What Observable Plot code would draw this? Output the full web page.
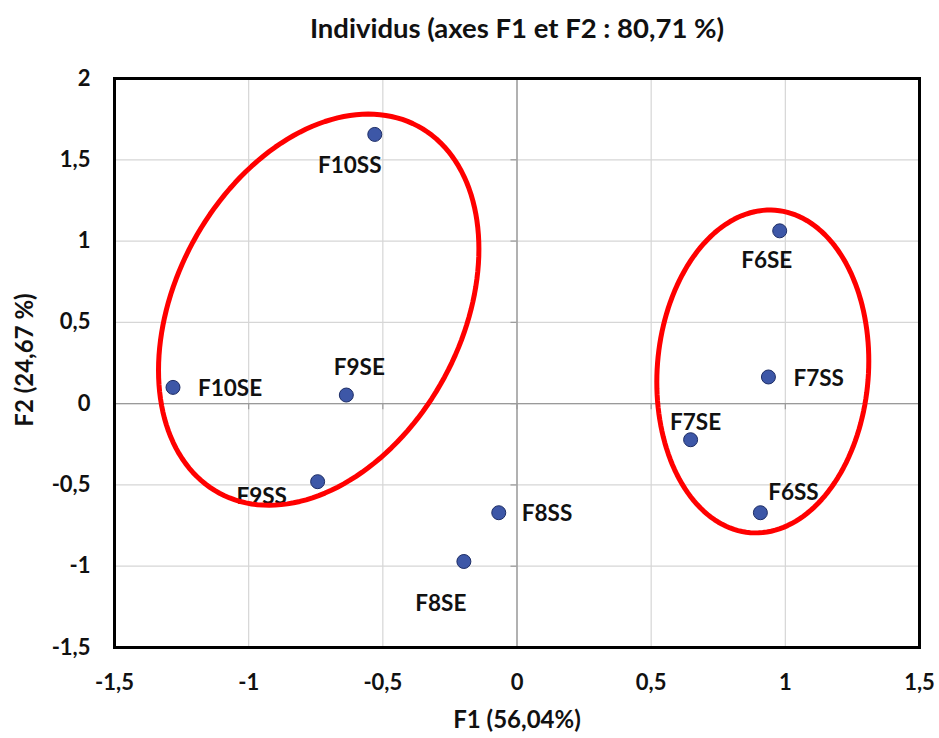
<!DOCTYPE html>
<html>
<head>
<meta charset="utf-8">
<script src="https://cdn.jsdelivr.net/npm/d3@7"></script>
<script src="https://cdn.jsdelivr.net/npm/@observablehq/plot@0.6"></script>
<style>
  body { margin: 0; background: #fff; }
  svg { display: block; }
</style>
</head>
<body>
<div id="chart"></div>
<script>
// Individuals projected on the first factorial plane
const names = ["F10SS", "F6SE", "F10SE", "F9SE", "F7SS", "F7SE", "F9SS", "F6SS", "F8SS", "F8SE"];
const f1 = [-0.530, 0.979, -1.282, -0.636, 0.937, 0.647, -0.743, 0.907, -0.068, -0.198];
const f2 = [1.656, 1.063, 0.100, 0.053, 0.164, -0.222, -0.480, -0.671, -0.671, -0.971];

const xTicks = [-1.5, -1, -0.5, 0, 0.5, 1, 1.5];
const yTicks = [-1.5, -1, -0.5, 0, 0.5, 1, 1.5, 2];

const titleText = "Individus (axes F1 et F2 : 80,71 %)";
const xTitle = "F1 (56,04%)";
const yTitle = "F2 (24,67 %)";

// Groups circled on the plane: centre, half-extent along F1 and F2, tilt
const groupCx = [-0.739, 0.916];
const groupCy = [0.578, 0.198];
const groupRx = [0.597, 0.395];
const groupRy = [1.203, 0.993];
const groupTilt = [0.31, 0.066];

// Where each name sits relative to its point (pixels)
const labelPlacement = {
  F10SS: {dx: -25, dy: 31, anchor: "middle"},
  F6SE:  {dx: -13, dy: 30, anchor: "middle"},
  F10SE: {dx: 25,  dy: 1,  anchor: "start"},
  F9SE:  {dx: 13,  dy: -27, anchor: "middle"},
  F7SS:  {dx: 25,  dy: 2,  anchor: "start"},
  F7SE:  {dx: 5,   dy: -17, anchor: "middle"},
  F9SS:  {dx: -56, dy: 15, anchor: "middle"},
  F6SS:  {dx: 33,  dy: -20, anchor: "middle"},
  F8SS:  {dx: 23,  dy: 1,  anchor: "start"},
  F8SE:  {dx: -23, dy: 42, anchor: "middle"}
};

const points = names.map((name, i) => ({name, x: f1[i], y: f2[i]}));

// Outline of each group as a closed parametric curve in data units
const outline = [];
groupCx.forEach((cx, g) => {
  const n = 160;
  const k = Math.sqrt(1 - groupTilt[g] ** 2);
  for (let j = 0; j <= n; ++j) {
    const t = (2 * Math.PI * j) / n;
    outline.push({
      g,
      x: cx + groupRx[g] * Math.cos(t),
      y: groupCy[g] + groupRy[g] * (groupTilt[g] * Math.cos(t) + k * Math.sin(t))
    });
  }
});

const comma = (d) => String(d).replace(".", ",");
const font = "Lato, 'Open Sans', sans-serif";
const axisGray = "#9a9a9a";
const ink = "#111";

const labelMarks = points.map((p) => {
  const s = labelPlacement[p.name];
  return Plot.text([p], {
    x: "x", y: "y", text: "name",
    dx: s.dx, dy: s.dy, textAnchor: s.anchor, lineAnchor: "middle",
    fontSize: 22.5, fontWeight: 700, fill: ink
  });
});

const chart = Plot.plot({
  width: 939,
  height: 738,
  marginLeft: 114,
  marginRight: 20,
  marginTop: 78,
  marginBottom: 91,
  style: {fontFamily: font, background: "#fff", color: ink},
  x: {domain: [-1.5, 1.5]},
  y: {domain: [-1.5, 2]},
  marks: [
    Plot.gridX(xTicks, {stroke: "#d6d6d6", strokeOpacity: 1, strokeWidth: 1.2}),
    Plot.gridY(yTicks, {stroke: "#d6d6d6", strokeOpacity: 1, strokeWidth: 1.2}),
    Plot.ruleX([0], {stroke: axisGray, strokeWidth: 1.4}),
    Plot.ruleY([0], {stroke: axisGray, strokeWidth: 1.4}),
    Plot.ruleX(xTicks, {x: (d) => d, y1: 0, y2: 0, insetBottom: -6, stroke: axisGray, strokeWidth: 1.2}),
    Plot.ruleY(yTicks, {y: (d) => d, x1: 0, x2: 0, insetLeft: -6, stroke: axisGray, strokeWidth: 1.2}),
    Plot.axisX(xTicks, {tickSize: 0, tickPadding: 27, tickFormat: comma, fontSize: 22, fontWeight: 700, label: null, fill: ink}),
    Plot.axisY(yTicks, {tickSize: 0, tickPadding: 24, tickFormat: comma, fontSize: 22, fontWeight: 700, label: null, fill: ink}),
    Plot.frame({stroke: "#000", strokeWidth: 3}),
    Plot.dot(points, {x: "x", y: "y", r: 7, fill: "#3d57a7", stroke: "#1d2d66", strokeWidth: 1}),
    ...labelMarks,
    Plot.line(outline, {x: "x", y: "y", z: "g", stroke: "#ff0000", strokeWidth: 5, curve: "linear"}),
    Plot.text([titleText], {frameAnchor: "top", lineAnchor: "middle", dy: -49, text: (d) => d, fontSize: 27.5, fontWeight: 700, fill: ink}),
    Plot.text([xTitle], {frameAnchor: "bottom", lineAnchor: "middle", dy: 73, text: (d) => d, fontSize: 24, fontWeight: 700, fill: ink}),
    Plot.text([yTitle], {frameAnchor: "left", textAnchor: "middle", lineAnchor: "middle", dx: -89, dy: -3, rotate: -90, text: (d) => d, fontSize: 24, fontWeight: 700, fill: ink})
  ]
});

document.getElementById("chart").appendChild(chart);
</script>
</body>
</html>
